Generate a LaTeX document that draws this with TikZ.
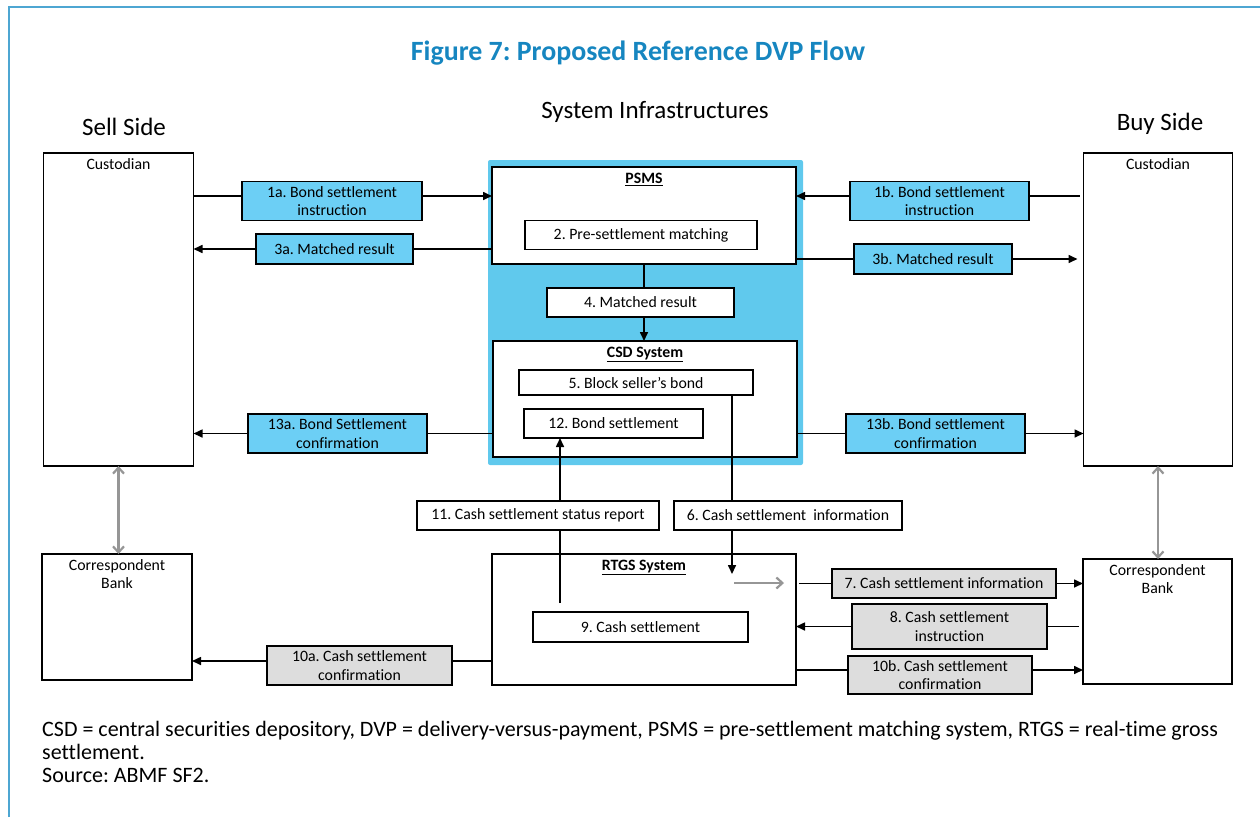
\documentclass[tikz,border=0pt]{standalone}
\usepackage{fontspec}
\setmainfont{Carlito}[Ligatures=NoCommon]
\usepackage{tikz}
\usetikzlibrary{arrows.meta,positioning,calc}
\definecolor{ttlblue}{RGB}{22,134,192}
\definecolor{frameblue}{RGB}{77,166,210}
\definecolor{bgblue}{RGB}{96,201,237}
\definecolor{lblue}{RGB}{108,207,245}
\definecolor{lgray}{RGB}{221,221,221}
\definecolor{dgray}{RGB}{150,150,150}
\newcommand{\lbl}{\fontsize{15.8}{18.5}\selectfont}
\newcommand{\hdr}{\fontsize{25}{30}\selectfont}
\frenchspacing

\begin{document}
\begin{tikzpicture}[
  every node/.style={font=\lbl},
  bigbox/.style={draw,line width=1.6pt,fill=white,inner sep=0pt,outer sep=0pt},
  lblb/.style  ={draw,line width=1.6pt,fill=lblue,align=center,inner sep=0pt,outer sep=0pt},
  lblg/.style  ={draw,line width=1.6pt,fill=lgray,align=center,inner sep=0pt,outer sep=0pt},
  lblw/.style  ={draw,line width=1.6pt,fill=white,align=center,inner sep=0pt,outer sep=0pt},
  boxttl/.style={inner sep=0pt,align=center},
  sz/.style 2 args={minimum width=#1,minimum height=#2},
  ln/.style    ={line width=1.6pt},
  fl/.style    ={-{Triangle[length=9pt,width=8pt]},line width=1.6pt},
  garr/.style  ={-{Straight Barb[length=6pt,width=11pt]},line width=2.2pt,dgray},
  gdbl/.style  ={{Straight Barb[length=6pt,width=11pt]}-{Straight Barb[length=6pt,width=11pt]},
                 line width=2.2pt,dgray},
  x=1pt,y=-1pt]

  \useasboundingbox (0,0) rectangle (1260,817);
  \draw[frameblue,line width=2.5pt] (9,817) -- (9,7) -- (1260,7);

  % ===== HEADINGS =====
  \node[font=\fontsize{27.9}{32}\selectfont\bfseries,text=ttlblue] (title) at (638,53)
    {Figure 7: Proposed Reference DVP Flow};
  \node[font=\hdr] (infraT) at (655,112) {System Infrastructures};
  \node[font=\hdr] (sellT)  at (124,127) {Sell Side};
  \node[font=\hdr] (buyT)   at (1160,124) {Buy Side};

  % ===== SIDES: custodians and correspondent banks =====
  \node[bigbox,sz={150pt}{313pt}] (sellCust) at (118.5,309.5) {};
  \node[boxttl,below=5pt of sellCust.north] (sellCustT) {Custodian};
  \node[bigbox,sz={149pt}{313pt}] (buyCust)  at (1158,309.5) {};
  \node[boxttl,below=5pt of buyCust.north]  (buyCustT)  {Custodian};
  \node[bigbox,sz={150pt}{126pt}] (sellCB) at (117,617) {};
  \node[boxttl,below=5pt of sellCB.north] (sellCBT) {Correspondent\\Bank};
  \node[bigbox,sz={149pt}{125pt}] (buyCB)  at (1157.5,621.5) {};
  \node[boxttl,below=5pt of buyCB.north]  (buyCBT)  {Correspondent\\Bank};

  % ===== SYSTEM INFRASTRUCTURES =====
  \node[fill=bgblue,rounded corners=2pt,sz={315pt}{305pt},inner sep=0pt] (infra) at (645.5,312.5) {};
  \node[bigbox,sz={304pt}{97pt}]  (psms) at (644,215.5) {};
  \node[boxttl,below=6pt of psms.north,font=\lbl\bfseries] (psmsT) {\underline{PSMS}};
  \node[lblw,sz={232pt}{29pt}] (b2) at (641,235) {2. Pre-settlement matching};
  \node[lblw,sz={187pt}{29pt}] (m4) at (640.5,302.5) {4. Matched result};
  \node[bigbox,sz={304pt}{116pt}] (csd) at (645,399) {};
  \node[boxttl,below=6pt of csd.north,font=\lbl\bfseries] (csdT) {\underline{CSD System}};
  \node[lblw,sz={234pt}{25pt}] (b5)  at (636,382.5) {5. Block seller’s bond};
  \node[lblw,sz={179pt}{29pt}] (b12) at (613.5,423.5) {12. Bond settlement};

  \node[lblw,sz={242pt}{29pt}] (b11) at (538,515.5) {11. Cash settlement status report};
  \node[lblw,sz={228pt}{29pt}] (b6)  at (788,515.5) {6. Cash settlement\ \ information};

  \node[bigbox,sz={304pt}{131pt}] (rtgs) at (644,619.5) {};
  \node[boxttl,below=6pt of rtgs.north,font=\lbl\bfseries] (rtgsT) {\underline{RTGS System}};
  \node[lblw,sz={215pt}{30pt}] (b9) at (640.5,627) {9. Cash settlement};

  % ===== LABEL BOXES ON THE FLOWS =====
  \node[lblb,sz={180pt}{39pt}] (b1a)  at (332,201)   {1a. Bond settlement\\instruction};
  \node[lblb,sz={157pt}{30pt}] (b3a)  at (334.5,249) {3a. Matched result};
  \node[lblb,sz={179pt}{39pt}] (b13a) at (337.5,433.5) {13a. Bond Settlement\\confirmation};
  \node[lblb,sz={179pt}{39pt}] (b1b)  at (939.5,201) {1b. Bond settlement\\instruction};
  \node[lblb,sz={158pt}{30pt}] (b3b)  at (933,259)   {3b. Matched result};
  \node[lblb,sz={179pt}{39pt}] (b13b) at (935.5,433.5) {13b. Bond settlement\\confirmation};
  \node[lblg,sz={224pt}{29pt}] (b7)   at (944,583.5) {7. Cash settlement information};
  \node[lblg,sz={195pt}{45pt}] (b8)   at (949.5,626.5) {8. Cash settlement\\instruction};
  \node[lblg,sz={184pt}{38pt}] (b10b) at (940,675)   {10b. Cash settlement\\confirmation};
  \node[lblg,sz={185pt}{39pt}] (b10a) at (359.5,665.5) {10a. Cash settlement\\confirmation};

  % line levels that sit a little above the label centres
  \coordinate (l1aW)  at ([yshift=5pt]b1a.west);
  \coordinate (l1aE)  at ([yshift=5pt]b1a.east);
  \coordinate (l1bW)  at ([yshift=5pt]b1b.west);
  \coordinate (l1bE)  at ([yshift=5pt]b1b.east);
  \coordinate (l10bW) at ([yshift=5pt]b10b.west);
  \coordinate (l10bE) at ([yshift=5pt]b10b.east);
  \coordinate (l10aW) at ([yshift=4.5pt]b10a.west);
  \coordinate (l10aE) at ([yshift=4.5pt]b10a.east);

  % ===== ARROWS =====
  % sell side <-> PSMS / CSD
  \draw[ln] (sellCust.east |- l1aW) -- (l1aW);
  \draw[fl] (l1aE) -- (psms.west |- l1aE);
  \draw[ln] (psms.west |- b3a.east) -- (b3a.east);
  \draw[fl] (b3a.west) -- (sellCust.east |- b3a.west);
  \draw[ln] (csd.west |- b13a.east) -- (b13a.east);
  \draw[fl] (b13a.west) -- (sellCust.east |- b13a.west);
  % buy side <-> PSMS / CSD
  \draw[ln] ([xshift=-4pt]buyCust.west |- l1bE) -- (l1bE);
  \draw[fl] (l1bW) -- (psms.east |- l1bW);
  \draw[ln] (psms.east |- b3b.west) -- (b3b.west);
  \draw[fl] (b3b.east) -- ([xshift=-6pt]buyCust.west |- b3b.east);
  \draw[ln] (csd.east |- b13b.west) -- (b13b.west);
  \draw[fl] (b13b.east) -- (buyCust.west |- b13b.east);
  % PSMS -> CSD
  \draw[ln] (psms.south) -- (psms.south |- m4.north);
  \draw[fl] (psms.south |- m4.south) -- (psms.south |- csd.north);
  % CSD <-> RTGS
  \coordinate (tap6)  at (732,395);
  \coordinate (end6)  at (732,574);
  \coordinate (tap11) at (560,603);
  \draw[ln] (tap6) -- (tap6 |- b6.north);
  \draw[fl] (tap6 |- b6.south) -- (end6);
  \draw[ln] (tap11) -- (tap11 |- b11.south);
  \draw[fl] (tap11 |- b11.north) -- (tap11 |- b12.south);
  % RTGS <-> correspondent banks
  \coordinate (g7a) at (734,583);
  \coordinate (g7b) at (784,583);
  \draw[garr] (g7a) -- (g7b);
  \draw[ln] ([xshift=3pt]rtgs.east |- b7.west) -- (b7.west);
  \draw[fl] (b7.east) -- (buyCB.west |- b7.east);
  \draw[ln] ([xshift=-4pt]buyCB.west |- b8.east) -- (b8.east);
  \draw[fl] (b8.west) -- (rtgs.east |- b8.west);
  \draw[ln] (rtgs.east |- l10bW) -- (l10bW);
  \draw[fl] (l10bE) -- (buyCB.west |- l10bE);
  \draw[ln] (rtgs.west |- l10aE) -- (l10aE);
  \draw[fl] (l10aW) -- (sellCB.east |- l10aW);
  % custodian <-> correspondent bank
  \draw[gdbl] (sellCust.south) -- (sellCust.south |- sellCB.north);
  \draw[gdbl] (buyCust.south) -- (buyCust.south |- buyCB.north);

  % ===== NOTES =====
  \node[anchor=north west,align=left,inner sep=0pt,
        font=\fontsize{22}{23}\selectfont] (notes) at (42,721)
    {CSD = central securities depository, DVP = delivery-versus-payment, PSMS = pre-settlement matching system, RTGS = real-time gross\\
     settlement.\\
     Source: ABMF SF2.};

\end{tikzpicture}
\end{document}
